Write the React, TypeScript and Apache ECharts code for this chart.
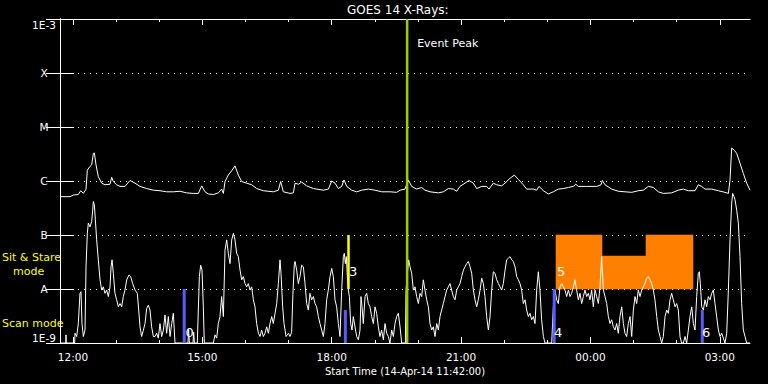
import React, { useEffect, useRef } from "react";
import * as echarts from "echarts";

// x: minutes since start time 14-Apr-14 11:42:00 ; y: log10(flux W/m^2)
const levelLabels = ["1E-9", "A", "B", "C", "M", "X", "1E-3"];
const timeTickMinutes = [18, 198, 378, 558, 738, 918];
const timeTickLabels = ["12:00", "15:00", "18:00", "21:00", "00:00", "03:00"];
const hourTickMinutes = [18, 78, 138, 198, 258, 318, 378, 438, 498, 558, 618, 678, 738, 798, 858, 918];

const longChannel: [number, number][] = [
  [0, -6.29], [13.9, -6.29], [18.6, -6.26], [25.5, -6.25], [28.8, -6.18], [32.5, -6.23], [36.2, -6.15], [38, -5.8],
  [41.7, -5.73], [44.1, -5.7], [46.4, -5.49], [47.8, -5.48], [50.1, -5.7], [53.3, -5.92], [58, -6.04], [62.6, -6.07],
  [69.6, -6.06], [71.9, -5.93], [74.2, -6.01], [78.8, -6.07], [83.5, -6.1], [90.4, -6.1], [97.4, -5.99], [104.4, -6.04],
  [111.3, -6.1], [120.6, -6.14], [129.9, -6.17], [139.1, -6.18], [148.4, -6.2], [157.7, -6.2], [167, -6.19], [176.2, -6.22],
  [185.5, -6.23], [192.5, -6.23], [197.1, -6.09], [201.8, -6.2], [206.4, -6.24], [213.3, -6.25], [220.3, -6.22], [224.9, -6.15],
  [227.3, -6.23], [229.6, -6.01], [234.2, -5.89], [238.9, -5.81], [243.5, -5.72], [248.1, -5.89], [252.8, -6.01], [259.7, -6.04],
  [266.7, -6.07], [273.6, -6.14], [282.9, -6.18], [296.8, -6.2], [303.8, -6.17], [307, -6.01], [310.7, -6.2], [320, -6.23],
  [324.7, -6.22], [327, -6.04], [331.6, -6.06], [336.3, -6.02], [343.2, -6.09], [352.5, -6.14], [366.4, -6.17], [373.4, -6.15],
  [378, -6.0], [382.6, -6.04], [387.3, -6.14], [391.9, -6.1], [395.2, -5.98], [398.9, -6.1], [405.8, -6.17], [412.8, -6.2],
  [419.7, -6.17], [429, -6.15], [438.3, -6.17], [447.6, -6.2], [459.2, -6.2], [468.4, -6.21], [473.1, -6.17], [480, -6.15],
  [484.6, -5.98], [489.3, -6.1], [496.2, -6.15], [503.2, -6.12], [507.8, -6.17], [514.8, -6.2], [526.4, -6.22], [533.3, -6.2],
  [540.3, -6.14], [547.3, -6.15], [551.9, -6.19], [556.5, -6.1], [563.5, -6.04], [569, -5.99], [575.1, -6.04], [579.7, -6.14],
  [586.7, -6.1], [593.6, -6.1], [596.9, -6.15], [602.9, -6.04], [607.5, -6.07], [614.5, -6.09], [619.1, -6.04], [626.1, -5.95],
  [632.1, -5.89], [637.7, -5.97], [644.6, -6.07], [649.3, -6.15], [658.6, -6.15], [663.2, -6.17], [666.4, -6.1], [672.5, -6.18],
  [679.4, -6.24], [686.4, -6.2], [693.3, -6.15], [700.3, -6.14], [707.3, -6.12], [714.2, -6.1], [717.5, -6.06], [721.2, -6.1],
  [732.8, -6.1], [746.7, -6.1], [752.7, -6.07], [754.6, -5.99], [758.3, -6.07], [767.6, -6.15], [776.8, -6.19], [786.1, -6.2],
  [795.4, -6.21], [804.7, -6.18], [811.6, -6.17], [818.6, -6.1], [825.5, -6.12], [832.5, -6.2], [839.4, -6.23], [851, -6.22],
  [860.3, -6.17], [867.3, -6.15], [874.2, -6.18], [883.5, -6.18], [888.1, -6.07], [892.8, -6.1], [897.4, -6.15], [906.7, -6.15],
  [916, -6.18], [925.2, -6.21], [929.9, -6.23], [932.2, -5.98], [934.5, -5.39], [938.2, -5.43], [941.5, -5.49], [946.1, -5.67],
  [950.7, -5.86], [955.4, -6.04], [960, -6.17],
];

const shortChannel: [number, number][] = [
  [0, -9], [8, -9], [8.3, -8.85], [8.8, -9], [20.4, -9], [20.9, -8.82], [23.2, -8.88], [25.5, -8.64], [27.8, -8.08], [29.2, -8.05],
  [30.6, -8.64], [32.5, -8.88], [34.8, -8.76], [36.2, -7.59], [38, -6.97], [39.4, -6.78], [41.7, -6.85], [44.1, -6.75], [45.5, -6.54],
  [46.4, -6.38], [47.8, -6.44], [49.2, -6.72], [51, -7.09], [53.3, -7.46], [55.7, -7.83], [58, -8.02], [60.3, -7.96], [62.6, -8.08],
  [64.9, -8.02], [67.3, -8.14], [69.6, -7.96], [71, -7.59], [72.4, -7.46], [74.2, -7.71], [76.5, -8.08], [78.8, -8.2], [81.2, -8.33],
  [83.5, -8.27], [85.8, -8.33], [88.1, -8.14], [90.4, -8.02], [92.8, -7.83], [96, -7.74], [98.3, -7.77], [101.1, -7.9], [104.4, -8.02],
  [107.6, -8.08], [109.5, -8.39], [111.3, -8.7], [113.6, -8.88], [116, -8.76], [118.3, -8.64], [120.6, -8.36], [122.9, -8.3],
  [125.2, -8.39], [127.5, -8.7], [129.9, -8.88], [132.2, -8.88], [134.5, -8.82], [136.8, -8.91], [139.1, -8.64], [141.5, -8.88],
  [143.8, -8.76], [146.1, -8.48], [148.4, -8.82], [150.7, -8.51], [153.1, -8.88], [155.4, -8.64], [157.7, -8.45], [160, -9],
  [178, -9], [179, -8.75], [180, -9], [185, -9], [186, -8.8], [187, -9], [191, -9], [193.9, -7.77], [195.7, -7.56], [197.6, -7.65], [199.4, -8.33], [200.8, -9],
  [213.3, -9], [215.7, -8.85], [218, -8.91], [220.3, -8.64], [222.6, -8.51], [224.9, -8.14], [227.3, -8.51], [229.6, -7.28],
  [231.9, -7.09], [234.2, -7.34], [236.5, -7.53], [238.9, -7.09], [241.2, -6.97], [243.5, -7.09], [245.8, -7.34], [248.1, -7.4],
  [250.5, -7.65], [252.8, -7.83], [255.1, -7.77], [257.4, -7.9], [259.7, -7.96], [262, -7.9], [264.4, -8.02], [266.7, -7.96],
  [269, -8.2], [271.3, -8.33], [273.6, -8.64], [276, -8.82], [278.3, -8.88], [280.6, -8.76], [282.9, -8.88], [285.2, -8.82],
  [287.6, -8.7], [289.9, -8.82], [292.2, -8.64], [294.5, -8.51], [296.8, -8.64], [299.2, -8.45], [301.5, -8.27], [303.8, -7.9],
  [306.1, -7.46], [307.5, -7.71], [309.8, -8.33], [311.7, -8.64], [314.5, -8.88], [317.7, -8.82], [320, -8.88],
  [322.3, -8.8], [324, -8.1], [326, -7.55], [327, -7.49], [329.3, -7.65], [331.6, -7.9], [333.9, -7.77], [336.2, -7.56],
  [338.6, -7.59], [340.9, -7.9], [343.2, -8.27], [345.5, -8.39], [347.8, -8.08], [350.1, -8.2], [352.5, -8.14], [354.8, -8.27],
  [357.1, -8.33], [359.4, -8.51], [361.7, -8.64], [364.1, -8.76], [366.4, -8.88], [368.7, -8.64], [371, -8.2], [373.3, -8.02],
  [375.7, -7.77], [378, -7.62], [380.3, -7.77], [382.6, -8.2], [384.9, -8.33], [387.3, -8.64], [389.6, -8.88], [391.9, -8.02],
  [394.2, -7.4], [395.6, -7.34], [397, -7.53], [398.4, -7.4], [399.8, -7.77], [401.2, -8.02], [402.6, -8.14], [404.4, -8.64],
  [406.3, -8.76], [408.1, -8.51], [410.4, -8.7], [412.8, -8.88], [415.1, -8.94], [417.4, -8.76], [418.8, -8.14], [420.2, -8.33],
  [422, -8.64], [424.4, -8.14], [426.7, -8.08], [429, -8.27], [431.3, -8.33], [433.6, -8.51], [436, -8.64], [438.3, -8.33],
  [440.6, -8.45], [442.9, -8.7], [445.2, -8.88], [447.5, -8.76], [449.9, -8.94], [452.2, -8.64], [454.5, -8.82], [456.8, -8.88],
  [459.1, -9], [461.5, -8.76], [463.8, -8.88], [466.1, -8.64], [468.4, -8.51], [470.7, -8.45], [473.1, -8.7], [475.4, -9],
  [480.5, -9], [481.4, -8.02], [483.3, -7.71], [485.1, -7.46], [487, -7.59], [489.3, -7.71], [491.6, -8.02], [493.9, -7.96],
  [496.2, -8.14], [498.6, -8.27], [500.9, -8.08], [503.2, -8.14], [505.5, -7.83], [507.8, -8.02], [510.2, -8.2], [512.5, -8.33],
  [514.8, -8.64], [517.1, -8.76], [519.4, -8.7], [521.8, -8.88], [524.1, -8.64], [526.4, -8.76], [528.7, -8.51], [531, -8.39],
  [533.3, -8.27], [535.7, -8.14], [538, -8.02], [540.3, -7.96], [542.6, -7.9], [544.9, -8.02], [547.3, -8.14], [549.6, -8.2],
  [551.9, -8.02], [554.2, -7.96], [556.5, -7.9], [558.9, -7.77], [561.2, -7.65], [563.5, -7.59], [565.8, -7.53], [568.1, -7.49],
  [570.5, -7.59], [572.8, -7.71], [575.1, -8.02], [577.4, -8.2], [579.7, -8.33], [582, -8.2], [584.4, -8.02], [586.7, -7.8],
  [589, -7.9], [591.3, -8.14], [593.6, -8.51], [596, -8.76], [598.3, -8.51], [600.6, -8.02], [602.9, -7.68], [605.2, -7.71],
  [607.6, -7.83], [609.9, -7.9], [612.2, -7.96], [614.5, -8.02], [616.8, -7.9], [619.2, -7.65], [621.5, -7.46], [623.8, -7.43],
  [626.1, -7.4], [628.4, -7.46], [630.7, -7.49], [633.1, -7.59], [635.4, -7.77], [637.7, -7.83], [640, -7.9],
  [642.3, -8.02], [644.6, -8.27], [647, -8.2], [649.3, -8.39], [651.6, -8.51], [653.9, -8.45], [656.2, -8.57], [658.6, -8.51],
  [660.9, -8.64], [663.2, -8.02], [665.5, -7.68], [667.8, -8.02], [670.1, -8.57], [672.5, -8.88], [674.8, -9], [684.1, -9],
  [686.4, -8.33], [688.7, -8.02], [691, -8.2], [693.3, -8.27], [695.7, -7.96], [698, -7.9], [700.3, -7.96], [702.6, -8.02],
  [704.9, -8.14], [707.3, -8.02], [709.6, -8.14], [711.9, -8.08], [714.2, -7.96], [716.5, -7.83], [718.8, -8.02], [721.2, -8.2],
  [723.5, -8.08], [725.8, -8.27], [728.1, -8.14], [730.4, -8.02], [732.8, -8.14], [735.1, -8.08], [737.4, -8.2], [739.7, -8.02],
  [742, -8.33], [744.4, -8.02], [746.7, -8.14], [749, -8.27], [751.3, -7.96], [753.6, -7.4], [756, -8.02], [758.3, -8.14],
  [760.6, -8.27], [762.9, -8.51], [765.2, -8.64], [767.5, -8.57], [769.9, -8.7], [772.2, -8.76], [774.5, -8.64], [776.8, -8.82],
  [779.1, -8.51], [781.5, -8.33], [783.8, -8.64], [786.1, -8.82], [788.4, -8.88], [790.7, -8.64], [793.1, -8.51], [795.4, -8.88],
  [797.7, -8.39], [800, -8.14], [802.3, -8.27], [804.6, -8.02], [807, -8.14], [809.3, -8.02], [811.6, -7.96], [813.9, -7.9],
  [816.2, -7.8], [818.6, -7.77], [820.9, -7.83], [823.2, -7.9], [825.5, -8.02], [827.8, -8.2], [830.2, -8.51], [832.5, -8.76],
  [834.8, -8.88], [837.1, -9], [839.4, -8.88], [841.8, -8.51], [844.1, -8.39], [846.4, -8.45], [848.7, -8.2], [851, -8.08],
  [853.3, -8.2], [855.7, -8.33], [858, -8.27], [860.3, -8.39], [862.6, -8.88], [864.9, -9], [867.3, -9], [869.6, -8.88],
  [871.9, -9], [874.2, -8.76], [876.5, -8.51], [878.9, -8.33], [881.2, -8.64], [883.5, -8.76], [885.8, -8.14], [888.1, -7.71],
  [889.5, -7.68], [890.9, -7.9], [892.8, -8.33], [895.1, -8.39], [897.4, -8.2], [899.7, -8.33], [902, -8.14], [904.4, -8.2],
  [906.7, -8.08], [909, -8.02], [911.3, -8.27], [913.6, -8.51], [916, -8.76], [918.3, -8.88], [920.6, -8.82], [922.9, -8.91],
  [925.2, -9], [927.6, -8.82], [929.9, -8.02], [932.2, -7.09], [934.5, -6.41], [935.9, -6.23], [937.8, -6.29], [939.2, -6.35],
  [941.5, -6.54], [943.8, -6.78], [946.1, -7.4], [948.4, -8.27], [950.7, -8.76], [953.1, -8.88], [955.4, -9], [960, -9],
];

// Sit & Stare pointing blocks: [start, end, low, high]
const stareBlocks: number[][] = [
  [690.1, 754.1, -8, -7],
  [754.1, 815.3, -8, -7.39],
  [815.3, 880.7, -8, -7],
];
// Scan mode observations: [time, top]
const scanBars: number[][] = [
  [172.8, -8],
  [397, -8.39],
  [687.6, -8],
  [893.6, -8.39],
];
// Sit & Stare start marker: [time, low, high]
const stareMarks: number[][] = [[401.4, -8, -7]];
// Observation labels
const eventLabels = ["0", "3", "4", "5", "6"];
const eventLabelPos: number[][] = [
  [174.5, -8.8],
  [402.1, -7.68],
  [687.3, -8.8],
  [691.5, -7.68],
  [893.2, -8.8],
];
const eventPeakTime = 483;

const FONT = "DejaVu Sans";

export default function App() {
  const ref = useRef<HTMLDivElement>(null);
  useEffect(() => {
    if (!ref.current) return;
    const chart = echarts.init(ref.current, undefined, { renderer: "svg" });
    const white = "#ffffff";
    const baseX = {
      type: "value",
      min: 0,
      max: 960,
      splitLine: { show: false },
    };
    const option: any = {
      animation: false,
      backgroundColor: "#000000",
      grid: { left: 60, right: 18, top: 19, bottom: 41, containLabel: false },
      xAxis: [
        {
          ...baseX,
          position: "bottom",
          axisLine: { show: true, lineStyle: { color: white, width: 1 } },
          axisTick: { show: true, inside: true, length: 6, customValues: timeTickMinutes, lineStyle: { color: white } },
          axisLabel: {
            show: true,
            customValues: timeTickMinutes,
            color: white,
            fontSize: 10.5,
            fontFamily: FONT,
            margin: 8,
            formatter: (v: number) => {
              const i = timeTickMinutes.indexOf(Math.round(v));
              return i >= 0 ? timeTickLabels[i] : "";
            },
          },
          name: "Start Time (14-Apr-14 11:42:00)",
          nameLocation: "middle",
          nameGap: 21,
          nameTextStyle: { color: white, fontSize: 10, fontFamily: FONT },
        },
        {
          ...baseX,
          position: "bottom",
          axisLine: { show: false },
          axisTick: { show: true, inside: true, length: 3, customValues: hourTickMinutes, lineStyle: { color: white } },
          axisLabel: { show: false },
        },
        {
          ...baseX,
          position: "top",
          axisLine: { show: true, lineStyle: { color: white, width: 1 } },
          axisTick: { show: true, inside: true, length: 6, customValues: timeTickMinutes, lineStyle: { color: white } },
          axisLabel: { show: false },
        },
        {
          ...baseX,
          position: "top",
          axisLine: { show: false },
          axisTick: { show: true, inside: true, length: 3, customValues: hourTickMinutes, lineStyle: { color: white } },
          axisLabel: { show: false },
        },
      ],
      yAxis: [
        {
          type: "value",
          min: -9,
          max: -3,
          interval: 1,
          position: "left",
          axisLine: { show: true, lineStyle: { color: white, width: 1 } },
          axisTick: { show: true, inside: true, length: 14, lineStyle: { color: white } },
          axisLabel: {
            color: white,
            fontSize: 10.5,
            fontFamily: FONT,
            align: "center",
            margin: 16,
            verticalAlignMinLabel: "bottom",
            verticalAlignMaxLabel: "top",
            formatter: (v: number) => levelLabels[Math.round(v + 9)] ?? "",
          },
          splitLine: { show: true, lineStyle: { color: white, type: [1, 5], width: 1 } },
        },
        {
          type: "value",
          min: -9,
          max: -3,
          interval: 1,
          position: "right",
          axisLine: { show: true, lineStyle: { color: white, width: 1 } },
          axisTick: { show: true, inside: true, length: 14, lineStyle: { color: white } },
          axisLabel: { show: false },
          splitLine: { show: false },
        },
      ],
      graphic: [
        {
          type: "text",
          left: 347,
          top: 4,
          style: { text: "GOES 14 X-Rays:", fill: white, font: `12px '${FONT}'` },
        },
        {
          type: "text",
          left: 2,
          top: 252,
          style: { text: "Sit & Stare", fill: "#ffff00", font: `11px '${FONT}'` },
        },
        {
          type: "text",
          left: 13,
          top: 266,
          style: { text: "mode", fill: "#ffff00", font: `11px '${FONT}'` },
        },
        {
          type: "text",
          left: 2,
          top: 318,
          style: { text: "Scan mode", fill: "#ffff00", font: `11px '${FONT}'` },
        },
      ],
      series: [
        {
          type: "custom",
          name: "stare blocks",
          z: 1,
          encode: { x: [0, 1], y: [2, 3] },
          data: stareBlocks,
          renderItem: (_p: any, api: any) => {
            const a = api.coord([api.value(0), api.value(3)]);
            const b = api.coord([api.value(1), api.value(2)]);
            return {
              type: "rect",
              shape: { x: a[0], y: a[1], width: b[0] - a[0], height: b[1] - a[1] },
              style: { fill: "#ff8000", stroke: "#ff8000", lineWidth: 0.6 },
            };
          },
        },
        {
          type: "line",
          name: "short",
          z: 2,
          data: shortChannel,
          showSymbol: false,
          symbol: "none",
          lineStyle: { color: white, width: 1 },
        },
        {
          type: "line",
          name: "long",
          z: 2,
          data: longChannel,
          showSymbol: false,
          symbol: "none",
          lineStyle: { color: white, width: 1 },
        },
        {
          type: "custom",
          name: "scan",
          z: 3,
          encode: { x: 0, y: 1 },
          data: scanBars,
          renderItem: (_p: any, api: any) => {
            const a = api.coord([api.value(0), api.value(1)]);
            const b = api.coord([api.value(0), -9]);
            return {
              type: "rect",
              shape: { x: a[0] - 1.5, y: a[1], width: 3, height: b[1] - a[1] },
              style: { fill: "#5a5aff" },
            };
          },
        },
        {
          type: "custom",
          name: "stare mark",
          z: 3,
          encode: { x: 0, y: [1, 2] },
          data: stareMarks,
          renderItem: (_p: any, api: any) => {
            const a = api.coord([api.value(0), api.value(2)]);
            const b = api.coord([api.value(0), api.value(1)]);
            return {
              type: "rect",
              shape: { x: a[0] - 1.25, y: a[1], width: 2.5, height: b[1] - a[1] },
              style: { fill: "#ffff00" },
            };
          },
        },
        {
          type: "custom",
          name: "event peak",
          z: 4,
          encode: { x: 0, y: 1 },
          data: [[eventPeakTime, -3]],
          renderItem: (_p: any, api: any) => {
            const a = api.coord([api.value(0), -3]);
            const b = api.coord([api.value(0), -9]);
            return {
              type: "group",
              children: [
                {
                  type: "line",
                  shape: { x1: a[0], y1: a[1], x2: b[0], y2: b[1] },
                  style: { stroke: "#9ccd00", lineWidth: 2.5 },
                },
                {
                  type: "text",
                  x: a[0] + 10,
                  y: a[1] + 24,
                  style: { text: "Event Peak", fill: white, font: `11px '${FONT}'`, verticalAlign: "middle" },
                },
              ],
            };
          },
        },
        {
          type: "custom",
          name: "labels",
          z: 5,
          encode: { x: 0, y: 1 },
          data: eventLabelPos,
          renderItem: (p: any, api: any) => {
            const a = api.coord([api.value(0), api.value(1)]);
            return {
              type: "text",
              x: a[0],
              y: a[1],
              style: {
                text: eventLabels[p.dataIndex],
                fill: white,
                font: `13px '${FONT}'`,
                verticalAlign: "middle",
                align: "left",
              },
            };
          },
        },
      ],
    };
    chart.setOption(option);
    return () => chart.dispose();
  }, []);
  return (
    <div
      ref={ref}
      style={{ position: "fixed", left: 0, top: 0, width: 768, height: 384, background: "#000" }}
    />
  );
}
